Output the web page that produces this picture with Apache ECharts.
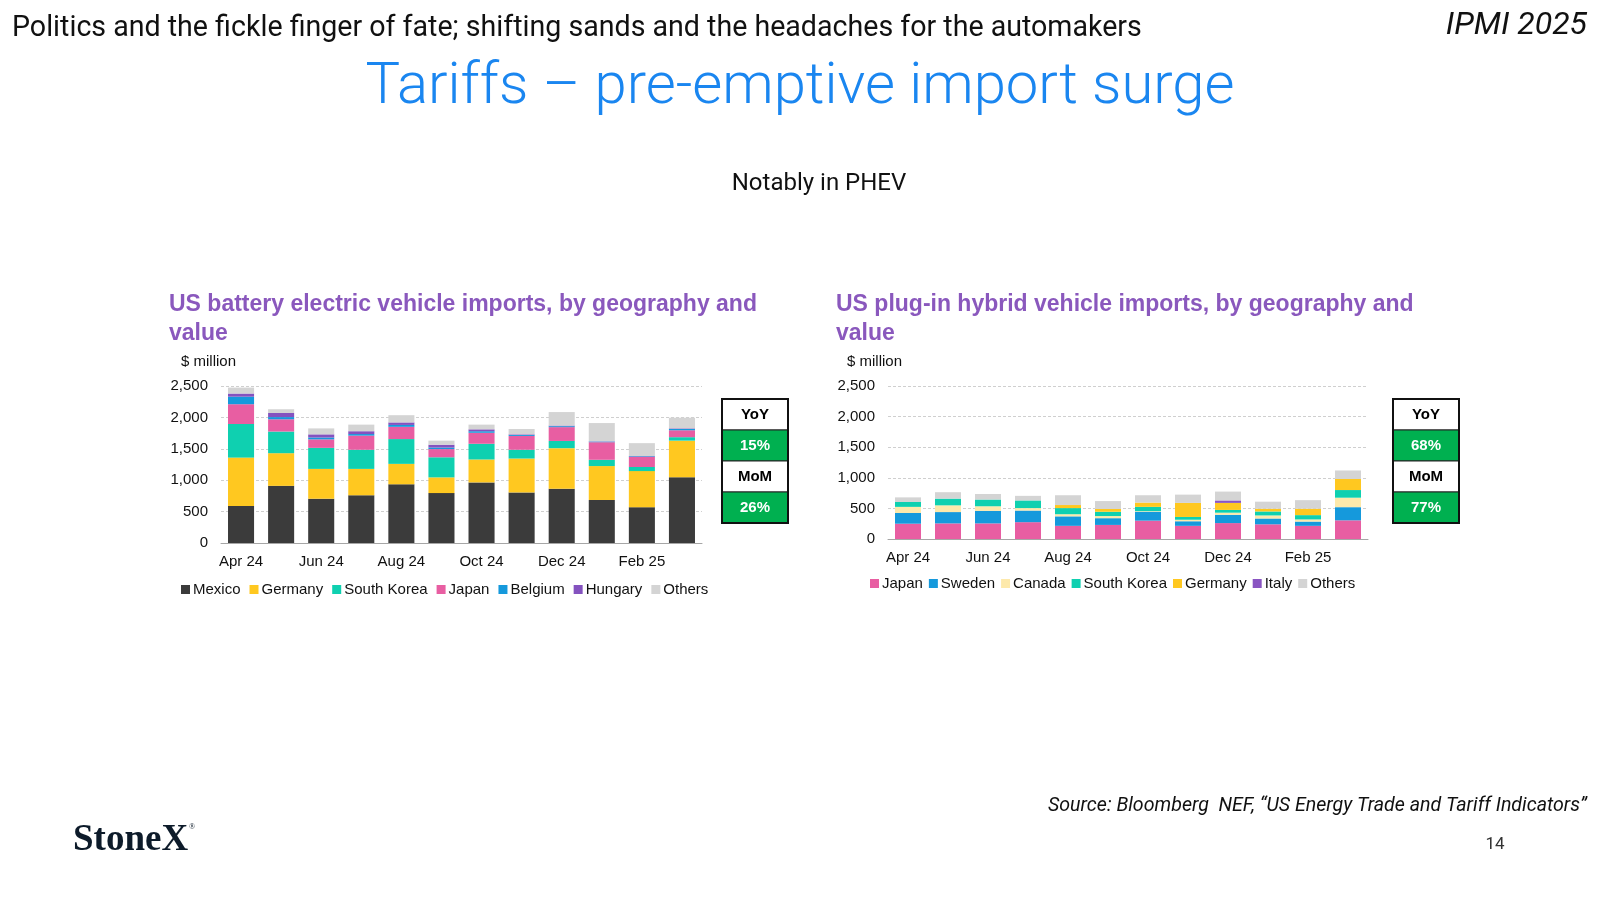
<!DOCTYPE html>
<html>
<head>
<meta charset="utf-8">
<script src="https://cdn.jsdelivr.net/npm/echarts@6/dist/echarts.min.js"></script>
<style>
  html, body { margin: 0; padding: 0; background: #fff; }
  #main { width: 1600px; height: 900px; }
</style>
</head>
<body>
<div id="main"></div>
<script>
// months, shared by both charts
const months = ['Apr 24', 'May 24', 'Jun 24', 'Jul 24', 'Aug 24', 'Sep 24',
  'Oct 24', 'Nov 24', 'Dec 24', 'Jan 25', 'Feb 25', 'Mar 25'];
const yTicks = [0, 500, 1000, 1500, 2000, 2500];

// BEV imports, $ million
const bevMexico     = [590, 910, 705, 760, 935, 795, 965, 805, 865, 685, 570, 1045];
const bevGermany    = [770, 520, 475, 420, 325, 250, 365, 540, 645, 540, 575, 585];
const bevSouthKorea = [535, 345, 335, 305, 395, 320, 250, 140, 115, 100, 65, 55];
const bevJapan      = [315, 195, 135, 225, 195, 130, 175, 220, 220, 280, 160, 110];
const bevBelgium    = [120, 35, 30, 25, 30, 25, 25, 15, 15, 10, 10, 20];
const bevHungary    = [50, 65, 50, 45, 40, 45, 30, 10, 10, 5, 5, 10];
const bevOthers     = [95, 60, 95, 105, 115, 65, 75, 85, 215, 290, 205, 170];

// PHEV imports, $ million
const phevJapan      = [250, 255, 255, 275, 215, 230, 300, 215, 260, 240, 215, 305];
const phevSweden     = [175, 185, 205, 190, 155, 110, 145, 75, 135, 95, 70, 215];
const phevCanada     = [100, 110, 75, 40, 35, 35, 10, 25, 35, 50, 35, 155];
const phevSouthKorea = [80, 110, 110, 125, 100, 70, 70, 45, 45, 65, 70, 125];
const phevGermany    = [0, 0, 0, 0, 50, 45, 70, 230, 115, 45, 105, 180];
const phevItaly      = [0, 0, 0, 0, 0, 0, 0, 0, 40, 0, 0, 0];
const phevOthers     = [75, 105, 90, 75, 160, 130, 120, 135, 145, 115, 140, 140];

const bevChange  = ['15%', '26%'];   // YoY, MoM
const phevChange = ['68%', '77%'];

const colors = {
  Mexico: '#3b3b3b', Germany: '#ffc820', 'South Korea': '#0fd0b0', Japan: '#e85ea2',
  Belgium: '#1599dc', Hungary: '#8452bf', Others: '#d4d4d4',
  Sweden: '#1599dc', Canada: '#fde9ab', Italy: '#8a55c2'
};

const bevSeries = [
  ['Mexico', bevMexico], ['Germany', bevGermany], ['South Korea', bevSouthKorea],
  ['Japan', bevJapan], ['Belgium', bevBelgium], ['Hungary', bevHungary], ['Others', bevOthers]
];
const phevSeries = [
  ['Japan', phevJapan], ['Sweden', phevSweden], ['Canada', phevCanada],
  ['South Korea', phevSouthKorea], ['Germany', phevGermany], ['Italy', phevItaly], ['Others', phevOthers]
];

const axisFont = 'Liberation Sans, Arial, sans-serif';

const makeX = (gi) => ({
  type: 'category', gridIndex: gi, data: months,
  axisLine: { lineStyle: { color: '#a6a6a6', width: 1 } },
  axisTick: { interval: 0, length: 5, lineStyle: { color: '#a6a6a6' } },
  axisLabel: { interval: 1, color: '#111', fontSize: 15, fontFamily: axisFont, margin: 11 }
});
const makeY = (gi) => ({
  type: 'value', gridIndex: gi, min: yTicks[0], max: yTicks[yTicks.length - 1], interval: 500,
  axisLine: { show: false }, axisTick: { show: false },
  splitLine: { lineStyle: { color: '#cfcfcf', type: [3, 2], width: 1 } },
  axisLabel: {
    color: '#111', fontSize: 15, fontFamily: axisFont, margin: 13,
    formatter: (v) => v.toLocaleString('en-US')
  }
});

const toSeries = (list, gi) => list.map(([name, vals]) => ({
  name: name, type: 'bar', stack: 's' + gi, xAxisIndex: gi, yAxisIndex: gi,
  data: vals, barWidth: '65%',
  itemStyle: { color: colors[name] },
  emphasis: { disabled: true }
}));

// little YoY / MoM table next to each chart
const changeBox = (x, y, vals) => {
  const w = 66, h = 31;
  const rows = [['YoY', false], [vals[0], true], ['MoM', false], [vals[1], true]];
  const kids = [];
  rows.forEach(([t, green], i) => {
    kids.push({ type: 'rect', shape: { x: 0, y: i * h, width: w, height: h },
      style: { fill: green ? '#00b050' : '#fff', stroke: '#222', lineWidth: 1 } });
    kids.push({ type: 'text', style: { text: t, x: w / 2, y: i * h + h / 2,
      textAlign: 'center', textVerticalAlign: 'middle',
      font: 'bold 15px ' + axisFont, fill: green ? '#fff' : '#000' } });
  });
  kids.push({ type: 'rect', shape: { x: 0, y: 0, width: w, height: h * 4 },
    style: { fill: 'none', stroke: '#111', lineWidth: 2 } });
  return { type: 'group', x: x, y: y, children: kids };
};

const txt = (text, x, y, font, fill, align) => ({
  type: 'text',
  style: { text: text, x: x, y: y, font: font, fill: fill, textAlign: align || 'left', textVerticalAlign: 'middle' }
});

const legendText = { fontSize: 15, fontFamily: axisFont, color: '#111', padding: [0, 0, 0, -2] };

const chart = echarts.init(document.getElementById('main'));
chart.setOption({
  backgroundColor: '#fff',
  animation: false,
  grid: [
    { left: 221, top: 386, width: 481, height: 157 },
    { left: 888, top: 386, width: 480, height: 153 }
  ],
  xAxis: [makeX(0), makeX(1)],
  yAxis: [makeY(0), makeY(1)],
  legend: [
    {
      left: 176, top: 577, icon: 'rect', itemWidth: 9, itemHeight: 9, itemGap: 9,
      textStyle: legendText, data: bevSeries.map(s => s[0]), selectedMode: false
    },
    {
      left: 865, top: 571, icon: 'rect', itemWidth: 9, itemHeight: 9, itemGap: 6,
      textStyle: legendText, data: phevSeries.map(s => s[0]), selectedMode: false
    }
  ],
  series: toSeries(bevSeries, 0).concat(toSeries(phevSeries, 1)),
  graphic: [
    txt('Politics and the fickle finger of fate; shifting sands and the headaches for the automakers',
      12, 29, '28.6px Roboto', '#111'),
    txt('IPMI 2025', 1587, 26, 'italic 32px Roboto', '#111', 'right'),
    txt('Tariffs \u2013 pre-emptive import surge', 800, 88, '300 58px Roboto', '#1a86f0', 'center'),
    txt('Notably in PHEV', 819, 184, '24px Roboto', '#111', 'center'),
    txt('US battery electric vehicle imports, by geography and', 169, 305, 'bold 23px ' + axisFont, '#8a58bd'),
    txt('value', 169, 334, 'bold 23px ' + axisFont, '#8a58bd'),
    txt('$ million', 181, 362, '15px ' + axisFont, '#111'),
    txt('US plug-in hybrid vehicle imports, by geography and', 836, 305, 'bold 23px ' + axisFont, '#8a58bd'),
    txt('value', 836, 334, 'bold 23px ' + axisFont, '#8a58bd'),
    txt('$ million', 847, 362, '15px ' + axisFont, '#111'),
    changeBox(722, 399, bevChange),
    changeBox(1393, 399, phevChange),
    txt('Source: Bloomberg  NEF, \u201cUS Energy Trade and Tariff Indicators\u201d', 1587, 806,
      'italic 19.6px Roboto', '#111', 'right'),
    txt('14', 1495, 845, '17px Roboto', '#333', 'center'),
    txt('StoneX', 73, 840, 'bold 37px "Liberation Serif", serif', '#0d1b2a'),
    txt('\u00ae', 189, 827, '8px "Liberation Serif", serif', '#0d1b2a')
  ]
});
</script>
</body>
</html>
